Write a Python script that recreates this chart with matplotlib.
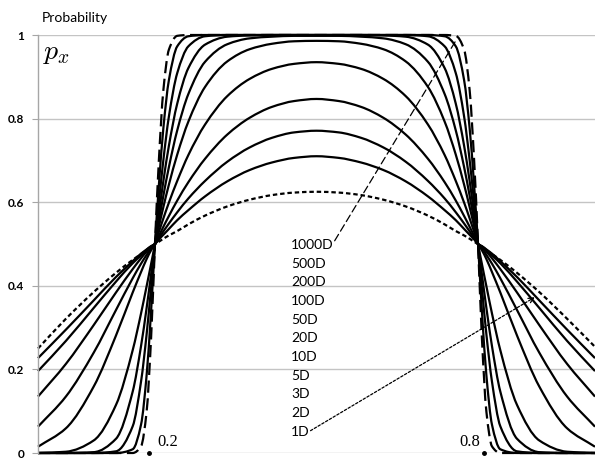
import matplotlib
matplotlib.use("Agg")
import matplotlib.pyplot as plt
from matplotlib.path import Path
from matplotlib.patches import PathPatch

# shared x grid (position along the interval)
X = [0, 0.05, 0.1, 0.14, 0.17, 0.185, 0.195, 0.203, 0.21, 0.217, 0.225, 0.235,
     0.25, 0.27, 0.3, 0.34, 0.38, 0.42, 0.46, 0.5,
     0.54, 0.58, 0.62, 0.66, 0.7, 0.73, 0.75, 0.765, 0.775, 0.783, 0.79,
     0.797, 0.805, 0.815, 0.83, 0.86, 0.9, 0.95, 1.0]

p_1D = [0.25, 0.321, 0.385, 0.431, 0.462, 0.476, 0.4855, 0.493, 0.4995, 0.5055, 0.5125, 0.5205,
        0.531, 0.547, 0.568, 0.59, 0.606, 0.617, 0.623, 0.625,
        0.623, 0.617, 0.606, 0.59, 0.568, 0.547, 0.531, 0.5205, 0.5125, 0.5055, 0.4995,
        0.493, 0.4855, 0.476, 0.462, 0.431, 0.385, 0.321, 0.254]
p_2D = [0.227, 0.295, 0.365, 0.421, 0.459, 0.477, 0.487, 0.495, 0.5, 0.511, 0.522, 0.536,
        0.557, 0.581, 0.614, 0.65, 0.677, 0.695, 0.706, 0.71,
        0.706, 0.695, 0.677, 0.65, 0.614, 0.581, 0.557, 0.536, 0.522, 0.511, 0.5,
        0.495, 0.487, 0.477, 0.459, 0.421, 0.365, 0.295, 0.227]
p_3D = [0.196, 0.268, 0.347, 0.41, 0.454, 0.473, 0.486, 0.494, 0.5, 0.514, 0.53, 0.549,
        0.576, 0.609, 0.651, 0.697, 0.731, 0.754, 0.767, 0.771,
        0.767, 0.754, 0.731, 0.697, 0.651, 0.609, 0.576, 0.549, 0.53, 0.514, 0.5,
        0.494, 0.486, 0.473, 0.454, 0.41, 0.347, 0.268, 0.196]
p_5D = [0.135, 0.213, 0.306, 0.384, 0.44, 0.466, 0.482, 0.493, 0.5, 0.519, 0.541, 0.567,
        0.604, 0.648, 0.704, 0.762, 0.802, 0.828, 0.842, 0.847,
        0.842, 0.828, 0.802, 0.762, 0.704, 0.648, 0.604, 0.567, 0.541, 0.519, 0.5,
        0.493, 0.482, 0.466, 0.44, 0.384, 0.306, 0.213, 0.135]
p_10D = [0.063, 0.135, 0.24, 0.342, 0.418, 0.453, 0.474, 0.49, 0.5, 0.529, 0.561, 0.599,
         0.651, 0.713, 0.786, 0.854, 0.895, 0.919, 0.931, 0.935,
         0.931, 0.919, 0.895, 0.854, 0.786, 0.713, 0.651, 0.599, 0.561, 0.529, 0.5,
         0.49, 0.474, 0.453, 0.418, 0.342, 0.24, 0.135, 0.063]
p_20D = [0.015, 0.059, 0.159, 0.281, 0.384, 0.433, 0.464, 0.485, 0.5, 0.542, 0.588, 0.642,
         0.714, 0.793, 0.876, 0.937, 0.966, 0.979, 0.985, 0.986,
         0.985, 0.979, 0.966, 0.937, 0.876, 0.793, 0.714, 0.642, 0.588, 0.542, 0.5,
         0.485, 0.464, 0.433, 0.384, 0.281, 0.159, 0.059, 0.015]
p_50D = [0.0, 0.003, 0.03, 0.115, 0.246, 0.334, 0.399, 0.452, 0.5, 0.555, 0.615, 0.684,
         0.772, 0.859, 0.936, 0.978, 0.992, 0.996, 0.998, 0.998,
         0.998, 0.996, 0.992, 0.978, 0.936, 0.859, 0.772, 0.684, 0.615, 0.555, 0.5,
         0.452, 0.399, 0.334, 0.246, 0.115, 0.03, 0.003, 0.0]
p_100D = [0.0, 0.0, 0.002, 0.034, 0.147, 0.256, 0.347, 0.427, 0.5, 0.572, 0.65, 0.735,
          0.836, 0.921, 0.977, 0.996, 0.999, 1.0, 1.0, 1.0,
          1.0, 1.0, 0.999, 0.996, 0.977, 0.921, 0.836, 0.735, 0.65, 0.572, 0.5,
          0.427, 0.347, 0.256, 0.147, 0.034, 0.002, 0.0, 0.0]
p_200D = [0.0, 0.0, 0.0, 0.004, 0.064, 0.171, 0.284, 0.395, 0.5, 0.598, 0.7, 0.805,
          0.909, 0.973, 0.997, 1.0, 1.0, 1.0, 1.0, 1.0,
          1.0, 1.0, 1.0, 1.0, 0.997, 0.973, 0.909, 0.805, 0.7, 0.598, 0.5,
          0.395, 0.284, 0.171, 0.064, 0.004, 0.0, 0.0, 0.0]
p_500D = [0.0, 0.0, 0.0, 0.0, 0.009, 0.068, 0.186, 0.339, 0.5, 0.64, 0.776, 0.892,
          0.973, 0.997, 1.0, 1.0, 1.0, 1.0, 1.0, 1.0,
          1.0, 1.0, 1.0, 1.0, 1.0, 0.997, 0.973, 0.892, 0.776, 0.64, 0.5,
          0.339, 0.186, 0.068, 0.009, 0.0, 0.0, 0.0, 0.0]
p_1000D = [0.0, 0.0, 0.0, 0.0, 0.0, 0.016, 0.099, 0.274, 0.5, 0.7, 0.867, 0.965,
           0.998, 1.0, 1.0, 1.0, 1.0, 1.0, 1.0, 1.0,
           1.0, 1.0, 1.0, 1.0, 1.0, 1.0, 0.998, 0.965, 0.867, 0.7, 0.5,
           0.274, 0.099, 0.016, 0.0, 0.0, 0.0, 0.0, 0.0]

solid_curves = [p_2D, p_3D, p_5D, p_10D, p_20D, p_50D, p_100D, p_200D, p_500D]
labels = ["1000D", "500D", "200D", "100D", "50D", "20D", "10D", "5D", "3D", "2D", "1D"]
yticks = [0, 0.2, 0.4, 0.6, 0.8, 1.0]
ytick_labels = ["0", "0.2", "0.4", "0.6", "0.8", "1"]

sans = ["Lato", "DejaVu Sans"]


def smooth_path(xs, ys):
    """Smoothed line through the data points (monotone cubic Bezier segments)."""
    n = len(xs)
    h = [xs[k + 1] - xs[k] for k in range(n - 1)]
    d = [(ys[k + 1] - ys[k]) / h[k] for k in range(n - 1)]
    m = [0.0] * n
    m[0] = d[0]
    m[-1] = d[-1]
    for k in range(1, n - 1):
        if d[k - 1] * d[k] <= 0:
            m[k] = 0.0
        else:
            w1 = 2 * h[k] + h[k - 1]
            w2 = h[k] + 2 * h[k - 1]
            m[k] = (w1 + w2) / (w1 / d[k - 1] + w2 / d[k])
    verts = [(xs[0], ys[0])]
    codes = [Path.MOVETO]
    for k in range(n - 1):
        verts += [(xs[k] + h[k] / 3, ys[k] + m[k] * h[k] / 3),
                  (xs[k + 1] - h[k] / 3, ys[k + 1] - m[k + 1] * h[k] / 3),
                  (xs[k + 1], ys[k + 1])]
        codes += [Path.CURVE4] * 3
    return Path(verts, codes)


def draw_curve(ax, ys, ls):
    patch = PathPatch(smooth_path(X, ys), fill=False, edgecolor="black", lw=1.6,
                      linestyle=ls, clip_on=False, capstyle="butt", joinstyle="round")
    ax.add_patch(patch)


fig = plt.figure(figsize=(5.95, 4.65), dpi=100)
ax = fig.add_axes([38 / 595, 1 - 453 / 465, 1 - 38 / 595, (453 - 35) / 465])
ax.set_xlim(0, 1)
ax.set_ylim(0, 1)

grid_c = "#c4c4c4"
for yv in yticks:
    ax.axhline(yv, color=grid_c, lw=1.0, zorder=0)

for s in ["top", "right", "bottom"]:
    ax.spines[s].set_visible(False)
ax.spines["left"].set_color("#a6a6a6")
ax.spines["left"].set_linewidth(1.0)
ax.set_xticks([])
ax.set_yticks(yticks)
ax.set_yticklabels(ytick_labels, fontfamily=sans, fontweight="bold", fontsize=8.5)
ax.tick_params(axis="y", length=4, color="#a6a6a6", pad=6)

draw_curve(ax, p_1D, (0, (2.0, 1.3)))
for ys in solid_curves:
    draw_curve(ax, ys, "solid")
draw_curve(ax, p_1000D, (0, (5.5, 2.5)))

# labels list
for i, lab in enumerate(labels):
    ax.text(0.454, 0.4976 - i * 0.0447, lab, fontfamily=sans, fontsize=10,
            ha="left", va="center")

# annotations
ax.annotate("", xy=(0.754, 0.995), xytext=(0.53, 0.502),
            arrowprops=dict(arrowstyle="-", lw=0.9, linestyle=(0, (6, 3)), color="black"))
ax.annotate("", xy=(0.896, 0.376), xytext=(0.485, 0.05),
            arrowprops=dict(arrowstyle="->", lw=0.9, linestyle=(0, (2, 1.5)),
                            color="black", mutation_scale=9))

# points 0.2 and 0.8
ax.plot([0.2, 0.8], [0, 0], "o", color="black", ms=2.5, clip_on=False)
ax.text(0.214, 0.006, "0.2", fontfamily="Liberation Serif", fontsize=12,
        ha="left", va="bottom")
ax.text(0.794, 0.006, "0.8", fontfamily="Liberation Serif", fontsize=12,
        ha="right", va="bottom")

fig.text(42 / 595, 1 - 18 / 465, "Probability", fontfamily=sans, fontsize=10,
         ha="left", va="center")
plt.rcParams["mathtext.fontset"] = "cm"
fig.text(43 / 595, 1 - 52 / 465, r"$p_x$", fontsize=20, ha="left", va="center")

fig.savefig("out.png", dpi=100)
